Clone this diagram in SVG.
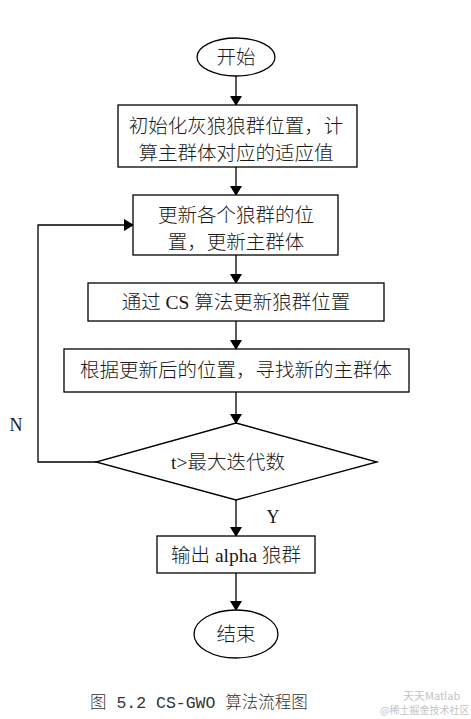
<svg xmlns="http://www.w3.org/2000/svg" width="471" height="719" viewBox="0 0 471 719">
<defs>
<marker id="arr" markerWidth="10" markerHeight="12" refX="9" refY="6" orient="auto" markerUnits="userSpaceOnUse">
<path d="M0,0 L10,6 L0,12 Z" fill="#000"/>
</marker>
<style>
.shape{fill:#fff;stroke:#000;stroke-width:1.3}
.t{font-family:"Liberation Serif","Noto Sans CJK SC",serif;font-size:19.5px;font-weight:300;fill:#1a1a1a;text-anchor:middle}
.lbl{font-family:"Liberation Serif",serif;font-size:18px;fill:#1a1a1a;text-anchor:middle}
.cap{font-family:"Liberation Mono","Noto Sans CJK SC",monospace;font-size:16.5px;font-weight:300;fill:#333}
.wm{font-family:"Noto Sans CJK SC",sans-serif;fill:#c4c4c4}
.c{fill:none;stroke:#000;stroke-width:1.3}
</style>
</defs>
<rect width="471" height="719" fill="#fff"/>
<g id="connectors">
<line class="c" x1="236" y1="76" x2="236" y2="105" marker-end="url(#arr)"/>
<line class="c" x1="236" y1="167" x2="236" y2="195" marker-end="url(#arr)"/>
<line class="c" x1="236" y1="255" x2="236" y2="283" marker-end="url(#arr)"/>
<line class="c" x1="236" y1="321" x2="236" y2="349" marker-end="url(#arr)"/>
<line class="c" x1="236" y1="392" x2="236" y2="423" marker-end="url(#arr)"/>
<line class="c" x1="236" y1="500" x2="236" y2="536" marker-end="url(#arr)"/>
<line class="c" x1="236" y1="573" x2="236" y2="610" marker-end="url(#arr)"/>
<polyline class="c" points="96,462 38,462 38,225 133,225" marker-end="url(#arr)"/>
<text class="lbl" x="16" y="431">N</text>
<text class="lbl" x="273" y="523">Y</text>
</g>
<g id="start">
<ellipse class="shape" cx="236" cy="57" rx="39" ry="19"/>
<text class="t" x="236" y="64">开始</text>
</g>
<g id="init">
<rect class="shape" x="118" y="105" width="239" height="62"/>
<text class="t" x="236" y="133">初始化灰狼狼群位置，计</text>
<text class="t" x="236" y="160">算主群体对应的适应值</text>
</g>
<g id="update">
<rect class="shape" x="133" y="195" width="205" height="60"/>
<text class="t" x="236" y="222">更新各个狼群的位</text>
<text class="t" x="236" y="249">置，更新主群体</text>
</g>
<g id="cs">
<rect class="shape" x="88" y="283" width="296" height="38"/>
<text class="t" x="236" y="309">通过 CS 算法更新狼群位置</text>
</g>
<g id="find">
<rect class="shape" x="64" y="349" width="345" height="43"/>
<text class="t" x="236" y="377">根据更新后的位置，寻找新的主群体</text>
</g>
<g id="decision">
<polygon class="shape" points="236,423 377,462 236,500 96,462"/>
<text class="t" x="228" y="469">t&gt;最大迭代数</text>
</g>
<g id="output">
<rect class="shape" x="157" y="536" width="158" height="37"/>
<text class="t" x="236" y="562">输出 alpha 狼群</text>
</g>
<g id="end">
<ellipse class="shape" cx="236" cy="634" rx="42" ry="24"/>
<text class="t" x="236" y="641">结束</text>
</g>
<text class="cap" x="90" y="708">图 5.2   CS-GWO 算法流程图</text>
<text class="wm" x="403" y="700" font-size="11">天天Matlab</text>
<text class="wm" x="380" y="714" font-size="10">@稀土掘金技术社区</text>
</svg>
